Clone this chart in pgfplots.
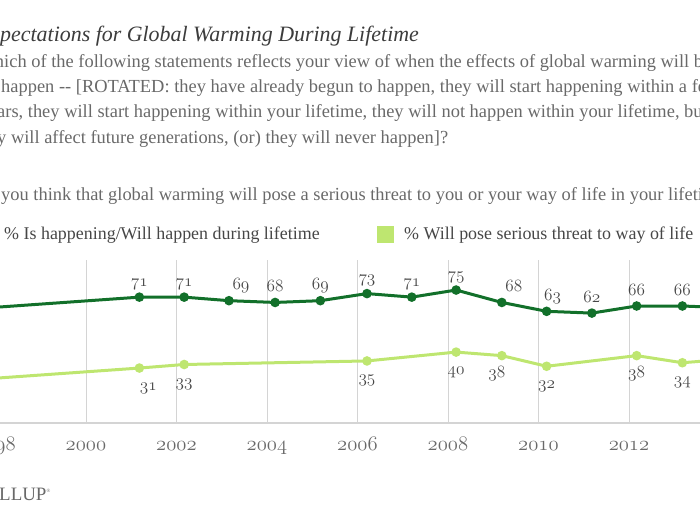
\documentclass[border=0pt]{standalone}
\usepackage{fontspec}
\setmainfont{Liberation Serif}
\usepackage{pgfplots}
\pgfplotsset{compat=1.18}
\usepackage{pgfplotstable}
\definecolor{dkgreen}{RGB}{18,112,42}
\definecolor{ltgreen}{RGB}{190,230,112}
\definecolor{txtgray}{RGB}{105,105,105}
\definecolor{lblgray}{RGB}{70,70,70}
\definecolor{titlegray}{RGB}{60,60,60}
\definecolor{gridgray}{RGB}{212,212,212}
\newcommand{\onum}[1]{$\mathnormal{#1}$}

\pgfplotstableread{
t v dx
1997.85 65 0
2001.18 71 0
2002.17 71 0
2003.16 69 12
2004.18 68 0
2005.18 69 0
2006.21 73 0
2007.20 71 0
2008.18 75 0
2009.19 68 12
2010.18 63 6
2011.18 62 0
2012.17 66 0
2013.18 66 0
2014.18 65 0
}\darktab

\pgfplotstableread{
t v dx
1997.85 25 0
2001.18 31 9
2002.17 33 0
2006.21 35 0
2008.18 40 0
2009.19 38 -5
2010.18 32 0
2012.17 38 0
2013.18 34 0
2014.18 36 0
}\lighttab

\begin{document}
\begin{tikzpicture}
\path[use as bounding box] (0bp,0bp) rectangle (700bp,525bp);
\clip (0bp,0bp) rectangle (700bp,525bp);
\begin{axis}[
  at={(-72.4bp,102bp)}, anchor=south west,
  scale only axis, width=859.75bp, height=163.1bp,
  xmin=1996.5, xmax=2015.5, ymin=0, ymax=92,
  axis y line=none, axis x line*=bottom,
  x axis line style={draw=gridgray, line width=2bp, -},
  xtick={1998,2000,...,2014},
  xmajorgrids, grid style={draw=gridgray, line width=0.9bp},
  major tick length=0pt,
  /pgf/number format/1000 sep={},
  xticklabel={\onum{\pgfmathprintnumber[precision=0]{\tick}}},
  xticklabel style={anchor=base, yshift=-28bp, text=txtgray, font=\fontsize{21}{23}\selectfont},
  ytick=\empty,
]
\addplot[dkgreen, line width=3bp, mark=*, mark size=3.2bp,
  nodes near coords={\onum{\pgfmathprintnumber{\pgfplotspointmeta}}},
  visualization depends on={\thisrow{dx}\as\labdx},
  every node near coord/.append style={anchor=base, yshift=11bp, xshift=\labdx bp, text=lblgray, font=\fontsize{18.5}{20}\selectfont, inner sep=0pt}]
  table[x=t, y=v] {\darktab};
\addplot[ltgreen, line width=3bp, mark=*, mark size=3.2bp,
  nodes near coords={\onum{\pgfmathprintnumber{\pgfplotspointmeta}}},
  visualization depends on={\thisrow{dx}\as\labdx},
  every node near coord/.append style={anchor=base, yshift=-22bp, xshift=\labdx bp, text=lblgray, font=\fontsize{18.5}{20}\selectfont, inner sep=0pt}]
  table[x=t, y=v] {\lighttab};
\end{axis}
\begin{scope}[x=1bp,y=1bp,every node/.style={anchor=base west, inner sep=0pt}]
\node[text=titlegray, font=\fontsize{22}{26}\selectfont\itshape] at (0, 525-42) {\llap{Ex}pectations for Global Warming During Lifetime};
\node[text=txtgray, font=\fontsize{18.5}{20}\selectfont] at (4, 525-68) {\llap{Wh}ich of the following statements reflects your view of when the effects of global warming will begin};
\node[text=txtgray, font=\fontsize{18.5}{20}\selectfont] at (1, 525-93) {\llap{to }happen -{}- [ROTATED: they have already begun to happen, they will start happening within a few};
\node[text=txtgray, font=\fontsize{18.5}{20}\selectfont] at (-3, 525-118) {\llap{ye}ars, they will start happening within your lifetime, they will not happen within your lifetime, but};
\node[text=txtgray, font=\fontsize{18.5}{20}\selectfont] at (-3, 525-143) {\llap{the}y will affect future generations, (or) they will never happen]?};
\node[text=txtgray, font=\fontsize{18.5}{20}\selectfont] at (1, 525-200) {\llap{Do }you think that global warming will pose a serious threat to you or your way of life in your lifetime?};
\fill[dkgreen] (-23, 525-243) rectangle (-6, 525-226);
\node[text=lblgray, font=\fontsize{18}{20}\selectfont] at (4, 525-239) {\% Is happening/Will happen during lifetime};
\fill[ltgreen] (377, 525-243) rectangle (394, 525-226);
\node[text=lblgray, font=\fontsize{18}{20}\selectfont] at (404, 525-239) {\% Will pose serious threat to way of life};
\node[text=txtgray, font=\fontsize{19}{20}\selectfont] at (-1, 525-500) {\llap{GA}LLUP\raisebox{0.9ex}{\fontsize{5}{6}\selectfont\textregistered}};
\end{scope}
\end{tikzpicture}
\end{document}
